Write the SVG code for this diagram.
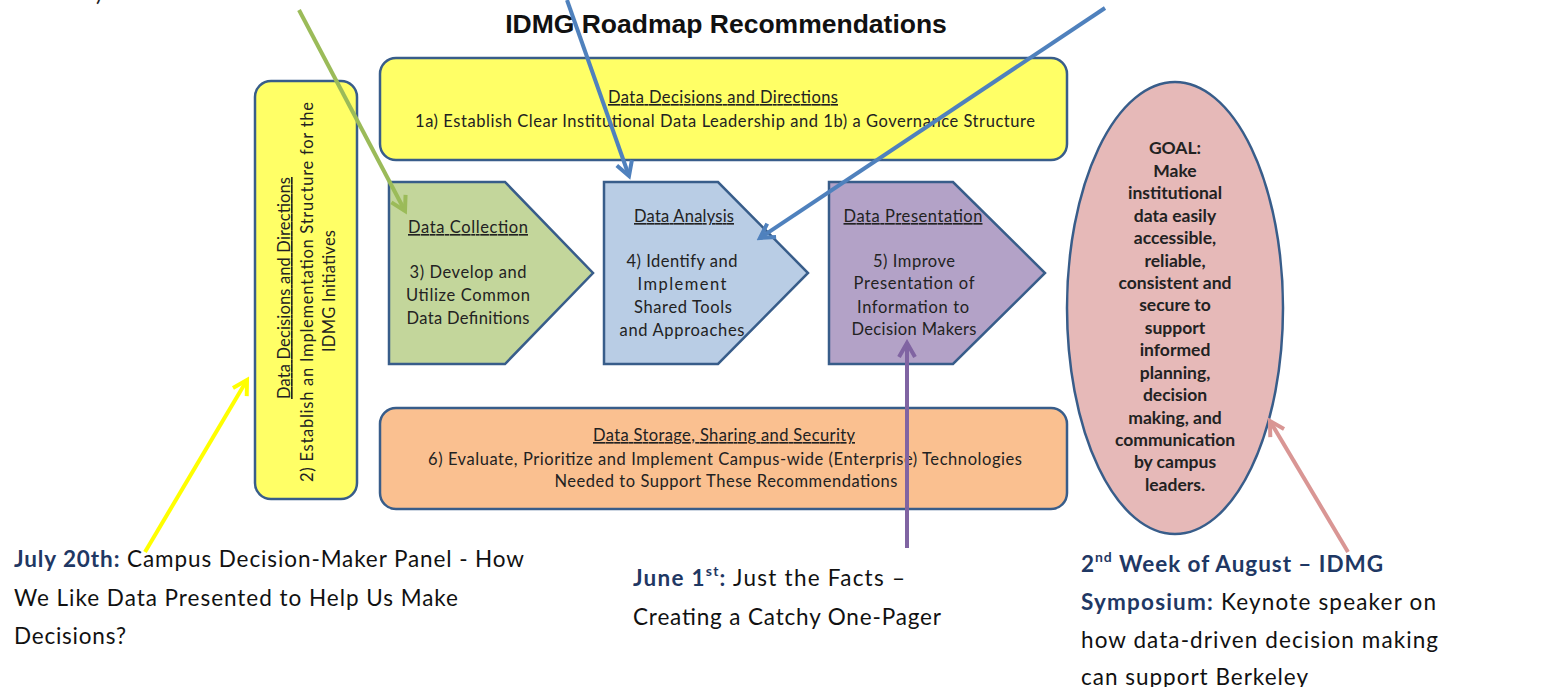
<svg xmlns="http://www.w3.org/2000/svg" width="1558" height="687" viewBox="0 0 1558 687">
<defs>
<style>
.t{font-family:Lato,"Liberation Sans",sans-serif;fill:#222}
.d{font-size:16.5px;text-anchor:middle}
.u{text-decoration:underline}
.g{font-size:17.5px;font-weight:bold;text-anchor:middle}
.b{font-size:22.5px;fill:#111}
.nv{fill:#1f3864;font-weight:bold}
.box{stroke:#385d8a;stroke-width:2.5}
.ar{fill:none;stroke-width:4}
.title{font-family:"Liberation Sans",Arial,sans-serif;font-weight:bold;font-size:26.5px;text-anchor:middle;fill:#111}
</style>
<marker id="mGreen" viewBox="0 0 10 10" refX="8" refY="5" markerWidth="5" markerHeight="5" orient="auto" markerUnits="strokeWidth"><path d="M1,1 L8,5 L1,9" fill="none" stroke="#9bbb59" stroke-width="2"/></marker>
<marker id="mBlue" viewBox="0 0 10 10" refX="8" refY="5" markerWidth="5" markerHeight="5" orient="auto" markerUnits="strokeWidth"><path d="M1,1 L8,5 L1,9" fill="none" stroke="#4f81bd" stroke-width="2"/></marker>
<marker id="mYellow" viewBox="0 0 10 10" refX="8" refY="5" markerWidth="5" markerHeight="5" orient="auto" markerUnits="strokeWidth"><path d="M1,1 L8,5 L1,9" fill="none" stroke="#ffff00" stroke-width="2"/></marker>
<marker id="mPurple" viewBox="0 0 10 10" refX="8" refY="5" markerWidth="5" markerHeight="5" orient="auto" markerUnits="strokeWidth"><path d="M1,1 L8,5 L1,9" fill="none" stroke="#8064a2" stroke-width="2"/></marker>
<marker id="mPink" viewBox="0 0 10 10" refX="8" refY="5" markerWidth="5" markerHeight="5" orient="auto" markerUnits="strokeWidth"><path d="M1,1 L8,5 L1,9" fill="none" stroke="#d99694" stroke-width="2"/></marker>
</defs>
<rect width="1558" height="687" fill="#fff"/>

<text class="t" x="96" y="1" font-size="22">)</text>

<text class="title" x="726" y="33">IDMG Roadmap Recommendations</text>

<g id="node-top">
<rect class="box" x="380" y="58" width="687" height="102" rx="16" fill="#ffff66"/>
<text class="t d u" x="723" y="103" textLength="230">Data Decisions and Directions</text>
<text class="t d" x="725" y="127" textLength="620">1a) Establish Clear Institutional Data  Leadership and 1b) a Governance Structure</text>
</g>

<g id="node-vertical">
<rect class="box" x="255" y="81" width="102" height="418" rx="16" fill="#ffff66"/>
<text class="t d u" transform="translate(290,288) rotate(-90)" textLength="222">Data Decisions and Directions</text>
<text class="t d" transform="translate(313,292) rotate(-90)" textLength="380">2) Establish an Implementation Structure for the</text>
<text class="t d" transform="translate(335,291) rotate(-90)" textLength="122">IDMG Initiatives</text>
</g>

<g id="node-collection">
<polygon class="box" points="389,182 505,182 593,273 505,364 389,364" fill="#c3d69b"/>
<text class="t d u" x="468" y="233" textLength="120">Data Collection</text>
<text class="t d" x="468" y="278" textLength="117">3) Develop and</text>
<text class="t d" x="468" y="301" textLength="124">Utilize Common</text>
<text class="t d" x="468" y="324" textLength="123">Data Definitions</text>
</g>

<g id="node-analysis">
<polygon class="box" points="604,182 718,182 808,273 718,364 604,364" fill="#b9cde5"/>
<text class="t d u" x="684" y="222" textLength="100">Data Analysis</text>
<text class="t d" x="682" y="267" textLength="111">4) Identify and</text>
<text class="t d" x="682" y="290" textLength="89">Implement</text>
<text class="t d" x="683" y="313" textLength="98">Shared Tools</text>
<text class="t d" x="682" y="336" textLength="125">and Approaches</text>
</g>

<g id="node-presentation">
<polygon class="box" points="829,182 953,182 1045,273 953,364 829,364" fill="#b3a2c7"/>
<text class="t d u" x="913" y="222" textLength="139">Data Presentation</text>
<text class="t d" x="914" y="267" textLength="82">5) Improve</text>
<text class="t d" x="914" y="289" textLength="121">Presentation of</text>
<text class="t d" x="913" y="313" textLength="112">Information to</text>
<text class="t d" x="914" y="335" textLength="125">Decision Makers</text>
</g>

<g id="node-storage">
<rect class="box" x="380" y="408" width="687" height="101" rx="16" fill="#fac090"/>
<text class="t d u" x="724" y="441" textLength="262">Data Storage, Sharing and Security</text>
<text class="t d" x="725" y="465" textLength="594">6) Evaluate, Prioritize and Implement Campus-wide (Enterprise) Technologies</text>
<text class="t d" x="726" y="487" textLength="343">Needed to Support These Recommendations</text>
</g>

<g id="node-goal">
<ellipse class="box" cx="1175" cy="308" rx="108" ry="226" fill="#e6b9b8"/>
<text class="t g" x="1175" y="154">GOAL:</text>
<text class="t g" x="1175" y="177">Make</text>
<text class="t g" x="1175" y="199">institutional</text>
<text class="t g" x="1175" y="222">data easily</text>
<text class="t g" x="1175" y="244">accessible,</text>
<text class="t g" x="1175" y="267">reliable,</text>
<text class="t g" x="1175" y="289">consistent and</text>
<text class="t g" x="1175" y="311">secure to</text>
<text class="t g" x="1175" y="334">support</text>
<text class="t g" x="1175" y="356">informed</text>
<text class="t g" x="1175" y="379">planning,</text>
<text class="t g" x="1175" y="401">decision</text>
<text class="t g" x="1175" y="424">making, and</text>
<text class="t g" x="1175" y="446">communication</text>
<text class="t g" x="1175" y="468">by campus</text>
<text class="t g" x="1175" y="491">leaders.</text>
</g>

<g id="note-july">
<text class="t b" x="14" y="567" textLength="510"><tspan class="nv">July 20th:</tspan> Campus Decision-Maker Panel - How</text>
<text class="t b" x="14" y="606" textLength="444">We Like Data Presented to Help Us Make</text>
<text class="t b" x="14" y="644" textLength="112">Decisions?</text>
</g>

<g id="note-june">
<text class="t b" x="633" y="586" textLength="272"><tspan class="nv">June 1</tspan><tspan class="nv" font-size="14" dy="-10">st</tspan><tspan class="nv" dy="10">:</tspan> Just the Facts –</text>
<text class="t b" x="633" y="625" textLength="308">Creating a Catchy One-Pager</text>
</g>

<g id="note-august">
<text class="t b" x="1081" y="572" textLength="302"><tspan class="nv">2</tspan><tspan class="nv" font-size="14" dy="-10">nd</tspan><tspan class="nv" dy="10"> Week of August – IDMG</tspan></text>
<text class="t b" x="1081" y="610" textLength="355"><tspan class="nv">Symposium:</tspan> Keynote speaker on</text>
<text class="t b" x="1081" y="648" textLength="357">how data-driven decision making</text>
<text class="t b" x="1081" y="685" textLength="227">can support Berkeley</text>
</g>

<g id="connectors">
<line class="ar" x1="299" y1="10" x2="405" y2="211" stroke="#9bbb59" marker-end="url(#mGreen)"/>
<line class="ar" x1="567" y1="0" x2="629" y2="176" stroke="#4f81bd" marker-end="url(#mBlue)"/>
<line class="ar" x1="1105" y1="8" x2="760" y2="238" stroke="#4f81bd" marker-end="url(#mBlue)"/>
<line class="ar" x1="145" y1="552" x2="247" y2="380" stroke="#ffff00" marker-end="url(#mYellow)"/>
<line class="ar" x1="907" y1="548" x2="907" y2="343" stroke="#8064a2" marker-end="url(#mPurple)"/>
<line class="ar" x1="1348" y1="552" x2="1270" y2="421" stroke="#d99694" marker-end="url(#mPink)"/>
</g>
</svg>
